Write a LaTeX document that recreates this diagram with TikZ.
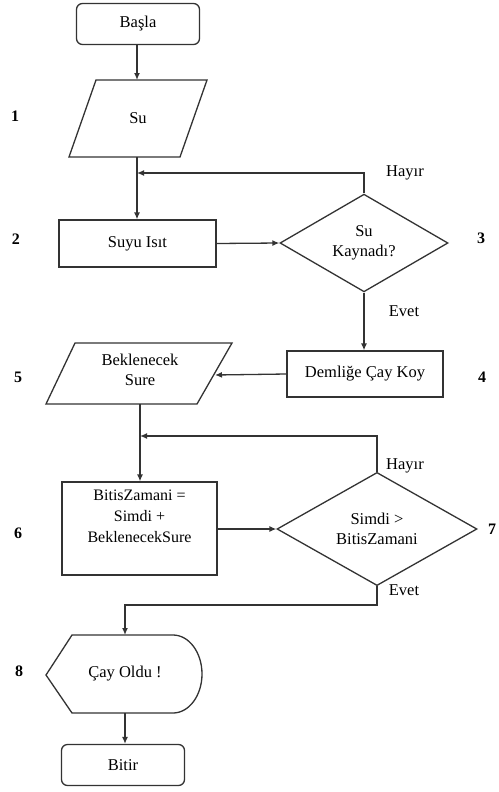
\documentclass[tikz,border=0pt]{standalone}
\usepackage{fontspec}
\setmainfont{Liberation Serif}
\usetikzlibrary{shapes.geometric,arrows.meta}
\begin{document}
\begin{tikzpicture}[x=1pt,y=1pt,
  every node/.style={font=\fontsize{16.5}{20}\selectfont},
  line/.style={draw=black!80, line width=1.3pt},
  arr/.style={line, -{Latex[length=7pt,width=6pt]}},
  rbox/.style={draw=black!80, line width=1.3pt, rounded corners=6pt, minimum width=123, minimum height=41, inner sep=0},
  pbox/.style={draw=black!80, line width=1.3pt, inner sep=0},
  dbox/.style={draw=black!80, line width=1.3pt, diamond, inner sep=0, align=center},
  num/.style={font=\fontsize{16}{20}\selectfont\bfseries},
  lbl/.style={font=\fontsize{16.5}{20}\selectfont}
]
\useasboundingbox[fill=white] (0,0) rectangle (498,-792);

% Basla
\node[rbox] (basla) at (138,-24) {Başla};

% Su parallelogram
\draw[line] (96,-80) -- (207,-80) -- (180,-157) -- (69,-157) -- cycle;
\node (su) at (138,-118) {Su};
\coordinate (sutop) at (137,-80);
\coordinate (subot) at (137,-157);

% Suyu Isit
\node[pbox, minimum width=157, minimum height=47] (isit) at (137.5,-243.5) {Suyu Isıt};

% Diamond 1
\node[dbox, minimum width=168, minimum height=91] (d1) at (364,-243) {Su\\Kaynadı?};

% Demlige
\node[pbox, minimum width=156, minimum height=46] (demlik) at (365,-374) {Demliğe Çay Koy};

% Beklenecek Sure parallelogram
\draw[line] (75,-343) -- (232,-343) -- (197,-404) -- (46,-404) -- cycle;
\node[align=center] (bekle) at (140,-370) {Beklenecek\\Sure};
\coordinate (bekright) at (215,-375);
\coordinate (bekbot) at (140,-404);

% BitisZamani
\node[pbox, minimum width=155, minimum height=93] (bitis) at (139.5,-528.5) {};
\node[align=center, font=\fontsize{16}{21}\selectfont] (bitistxt) at (139.5,-516) {BitisZamani =\\Simdi +\\BeklenecekSure};

% Diamond 2
\node[dbox, minimum width=200, minimum height=92] (d2) at (377,-529) {Simdi >\\BitisZamani};

% Cay Oldu display
\draw[line] (46,-675) -- (72,-635) -- (173,-635) arc[start angle=90, end angle=-90, x radius=29, y radius=39] -- (72,-713) -- cycle;
\node (cay) at (125,-674) {Çay Oldu !};
\coordinate (caytop) at (125,-635);
\coordinate (caybot) at (125,-713);

% Bitir
\node[rbox] (bitir) at (123,-765) {Bitir};

% numbers
\node[num] (n1) at (15,-116) {1};
\node[num] (n2) at (16,-239) {2};
\node[num] (n3) at (481,-238) {3};
\node[num] (n4) at (482,-377) {4};
\node[num] (n5) at (18,-377) {5};
\node[num] (n6) at (18,-533) {6};
\node[num] (n7) at (492,-529) {7};
\node[num] (n8) at (19,-671) {8};

% labels
\node[lbl] (h1) at (405,-173) {Hayır};
\node[lbl] (e1) at (404,-311) {Evet};
\node[lbl] (h2) at (405,-466) {Hayır};
\node[lbl] (e2) at (404,-590) {Evet};

% connectors
\coordinate (j1) at (137,-173);
\coordinate (j2) at (140,-436);
\draw[arr] (basla.south -| sutop) -- (sutop);
\draw[arr] (subot) -- (subot |- isit.north);
\draw[arr] (d1.north) |- (j1);
\draw[arr] (isit.east) -- (d1.west);
\draw[arr] (d1.south) -- (d1.south |- demlik.north);
\draw[arr] (demlik.west) -- (bekright);
\draw[arr] (bekbot) -- (bekbot |- bitis.north);
\draw[arr] (d2.north) |- (j2);
\draw[arr] (bitis.east |- d2.west) -- (d2.west);
\coordinate (k) at (377,-605);
\draw[arr] (d2.south) -- (k) -| (caytop);
\draw[arr] (caybot) -- (caybot |- bitir.north);
\end{tikzpicture}
\end{document}
